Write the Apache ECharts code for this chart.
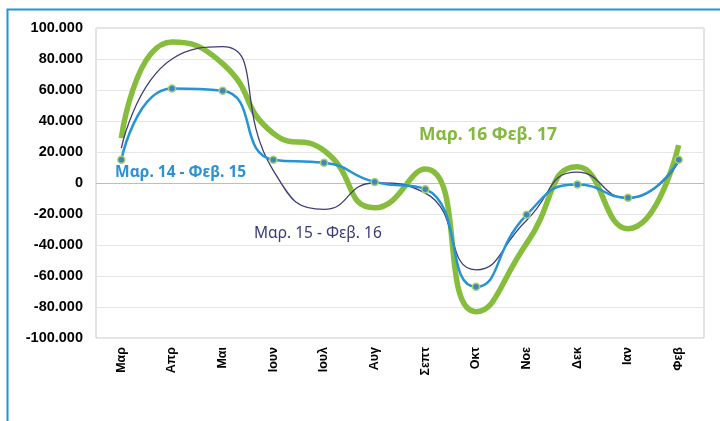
<!DOCTYPE html>
<html>
<head>
<meta charset="utf-8">
<style>
  html, body { margin: 0; padding: 0; background: #fff; }
  #chart { width: 720px; height: 421px; }
</style>
<script src="https://cdn.jsdelivr.net/npm/echarts@6/dist/echarts.min.js"></script>
</head>
<body>
<div id="chart"></div>
<script>
// μήνες
var months = ['Μαρ', 'Απρ', 'Μαι', 'Ιουν', 'Ιουλ', 'Αυγ', 'Σεπτ', 'Οκτ', 'Νοε', 'Δεκ', 'Ιαν', 'Φεβ'];
// Μαρ. 14 - Φεβ. 15
var y1415 = [15000, 61000, 59500, 15000, 13000, 700, -4000, -67000, -20500, -1000, -9500, 15000];
// Μαρ. 15 - Φεβ. 16
var y1516 = [22500, 80000, 88000, 8000, -17000, 0, -6500, -56000, -24000, 7000, -10000, 13500];
// Μαρ. 16 Φεβ. 17
var y1617 = [29000, 91000, 77000, 32000, 21000, -16000, 9000, -83000, -39000, 10500, -29500, 24500];

var chart = echarts.init(document.getElementById('chart'));

function fmt(v) {
  if (v === 0) return '0';
  var s = Math.abs(v).toString();
  var out = s.replace(/\B(?=(\d{3})+(?!\d))/g, '.');
  return (v < 0 ? '-' : '') + out;
}

var option = {
  animation: false,
  grid: {
    left: 96, right: 16, top: 28, bottom: 83,
    show: true, borderColor: '#c8c8c8', borderWidth: 1
  },
  xAxis: {
    type: 'category',
    data: months,
    boundaryGap: true,
    axisLine: { show: false },
    axisTick: { show: false },
    axisLabel: {
      rotate: 90, color: '#000', fontWeight: 'bold', fontSize: 12.5,
      fontFamily: 'Liberation Sans, Arial', margin: 9
    }
  },
  yAxis: {
    type: 'value',
    min: -100000, max: 100000, interval: 20000,
    axisLine: { show: false },
    axisTick: { show: false },
    splitLine: { lineStyle: { color: '#e6e6e6' } },
    axisLabel: {
      formatter: fmt, color: '#000', fontWeight: 'bold', fontSize: 14.5,
      fontFamily: 'Liberation Sans, Arial', margin: 13
    }
  },
  series: [
    {
      name: 'Μαρ. 16 Φεβ. 17',
      type: 'line',
      data: y1617,
      smooth: 0.55,
      showSymbol: false,
      lineStyle: { color: '#86bd3c', width: 5.5 },
      markLine: {
        silent: true, symbol: 'none', label: { show: false },
        lineStyle: { color: '#bdbdbd', type: 'solid', width: 1 },
        data: [{ yAxis: 0 }],
        z: 1
      },
      z: 2
    },
    {
      name: 'Μαρ. 15 - Φεβ. 16',
      type: 'line',
      data: y1516,
      smooth: 0.55,
      showSymbol: false,
      lineStyle: { color: '#3f3d78', width: 1.3 },
      z: 3
    },
    {
      name: 'Μαρ. 14 - Φεβ. 15',
      type: 'line',
      data: y1415,
      smooth: 0.55,
      symbol: 'circle',
      symbolSize: 7,
      itemStyle: { color: '#3d86c0', borderColor: '#a9cf6e', borderWidth: 1.5 },
      lineStyle: { color: '#2494d6', width: 2.5 },
      z: 4
    }
  ],
  graphic: [
    {
      type: 'rect', left: 5, top: 7, silent: true,
      shape: { width: 730, height: 430 },
      style: { fill: 'none', stroke: '#1f95da', lineWidth: 2 }
    },
    {
      type: 'text', left: 115, top: 165,
      style: { text: 'Μαρ. 14 - Φεβ. 15', fill: '#2b93d3', font: 'bold 15.5px "Noto Sans", sans-serif' }
    },
    {
      type: 'text', left: 419, top: 126,
      style: { text: 'Μαρ. 16 Φεβ. 17', fill: '#84b93e', font: 'bold 17.5px "Noto Sans", sans-serif' }
    },
    {
      type: 'text', left: 254, top: 226,
      style: { text: 'Μαρ. 15 - Φεβ. 16', fill: '#3a3a76', font: '15.5px "Noto Sans", sans-serif' }
    }
  ]
};

chart.setOption(option);
</script>
</body>
</html>
